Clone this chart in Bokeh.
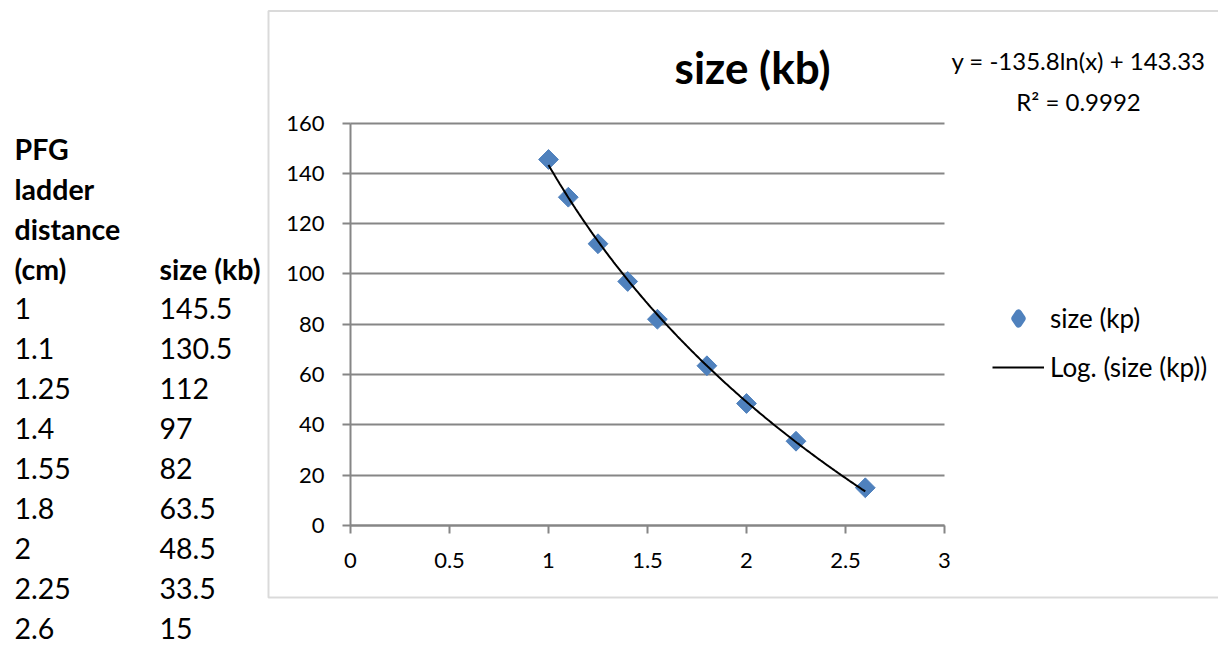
import numpy as np
from bokeh.plotting import figure
from bokeh.models import (Range1d, FixedTicker, Label, LabelSet, ColumnDataSource,
                          Legend, LegendItem, PolyAnnotation)
from bokeh.core.properties import value
from bokeh.embed import file_html
from bokeh.resources import INLINE

# ---------------- data ----------------
distance_cm = [1, 1.1, 1.25, 1.4, 1.55, 1.8, 2, 2.25, 2.6]
size_kb = [145.5, 130.5, 112, 97, 82, 63.5, 48.5, 33.5, 15]
distance_text = ["1", "1.1", "1.25", "1.4", "1.55", "1.8", "2", "2.25", "2.6"]
size_text = ["145.5", "130.5", "112", "97", "82", "63.5", "48.5", "33.5", "15"]
header_left = ["PFG", "ladder", "distance", "(cm)"]
header_right = "size (kb)"
x_ticks = [0, 0.5, 1, 1.5, 2, 2.5, 3]
x_tick_labels = ["0", "0.5", "1", "1.5", "2", "2.5", "3"]
y_ticks = [0, 20, 40, 60, 80, 100, 120, 140, 160]
chart_title = "size (kb)"
series_label = "size (kp)"
trend_label = "Log. (size (kp))"
equation_text = "y = -135.8ln(x) + 143.33"
r2_text = "R\u00b2 = 0.9992"

# ---------------- layout ----------------
W, H = 1218, 647
XMIN, XMAX = 0, 3
YMIN, YMAX = 0, 160
# pixel position of the plot area inside the canvas
PX0, PX1 = 350, 944      # x = 0 .. 3
PY0, PY1 = 525, 122.5    # y = 0 .. 160
SX = (PX1 - PX0) / (XMAX - XMIN)
SY = (PY0 - PY1) / (YMAX - YMIN)
FONT = "Lato"
GREY = "#868686"
BLUE = "#4F81BD"


def dx(px):
    return XMIN + (px - PX0) / SX


def dy(py):
    return YMIN + (PY0 - py) / SY


p = figure(width=W, height=H, title=None,
           x_range=Range1d(dx(0), dx(W)), y_range=Range1d(dy(H), dy(0)),
           output_backend="svg", toolbar_location=None,
           min_border=0, min_border_left=0, min_border_right=0,
           min_border_top=0, min_border_bottom=0,
           background_fill_color="white", border_fill_color="white")
p.outline_line_color = None

# axes (kept in their side panels, drawn at the plot-area origin)
p.xaxis.ticker = FixedTicker(ticks=x_ticks)
p.xaxis.major_label_overrides = {t: l for t, l in zip(x_ticks, x_tick_labels)}
p.yaxis.ticker = FixedTicker(ticks=y_ticks)
p.xaxis.fixed_location = YMIN
p.yaxis.fixed_location = XMIN
p.xaxis.bounds = (XMIN, XMAX)
p.yaxis.bounds = (YMIN, YMAX)
for ax in (p.xaxis[0], p.yaxis[0]):
    ax.axis_line_color = GREY
    ax.axis_line_width = 2
    ax.major_tick_line_color = GREY
    ax.major_tick_line_width = 2
    ax.major_tick_out = 8
    ax.major_tick_in = 0
    ax.minor_tick_line_color = None
    ax.major_label_text_font = FONT
    ax.major_label_text_font_size = "22px"
    ax.major_label_text_color = "black"
p.xaxis.major_label_standoff = 19
p.yaxis.major_label_standoff = 18

p.xgrid.visible = False
yg = p.ygrid[0]
yg.grid_line_color = GREY
yg.grid_line_width = 2
yg.grid_line_alpha = 1
yg.bounds = (YMIN, YMAX)
if "cross_bounds" in yg.properties():
    yg.cross_bounds = (XMIN, XMAX)

# data markers
src = ColumnDataSource(dict(x=distance_cm, y=size_kb))
p.scatter("x", "y", source=src, marker="square", size=14, angle=np.pi / 4,
          fill_color=BLUE, line_color=BLUE, line_width=1)

# logarithmic trend line fitted to the data
coef = np.polyfit(np.log(distance_cm), size_kb, 1)
xs = np.linspace(min(distance_cm), max(distance_cm), 200)
ys = coef[0] * np.log(xs) + coef[1]
trend_r = p.line(xs, ys, line_color="black", line_width=2)

# legend (hidden diamond renderer supplies the legend symbol)
proxy = p.scatter("x", "y", source=src, marker="diamond", size=12, fill_color=BLUE,
                  line_color=BLUE, line_width=7, line_join="round", visible=False)
legend = Legend(items=[LegendItem(label=series_label, renderers=[proxy]),
                       LegendItem(label=trend_label, renderers=[trend_r])],
                location=(992, H - 383), glyph_width=52, glyph_height=28, label_height=32,
                spacing=17, padding=0, margin=0, label_standoff=6,
                border_line_color=None, background_fill_alpha=0,
                label_text_font=FONT, label_text_font_size="26px",
                label_text_color="black")
p.add_layout(legend)

# chart border
p.add_layout(PolyAnnotation(xs=[dx(268), dx(1240), dx(1240), dx(268)],
                            ys=[dy(10.5), dy(10.5), dy(597), dy(597)],
                            fill_alpha=0, line_color=GREY, line_width=2))

# chart title and equation
p.add_layout(Label(x=dx(752), y=dy(66), text=chart_title, text_font=FONT,
                   text_font_style="bold", text_font_size="44px", text_color="black",
                   text_align="center", text_baseline="middle"))
p.add_layout(Label(x=dx(1078), y=dy(60), text=equation_text, text_font=FONT,
                   text_font_size="24px", text_color="black",
                   text_align="center", text_baseline="middle"))
p.add_layout(Label(x=dx(1078), y=dy(101), text=r2_text, text_font=FONT,
                   text_font_size="24px", text_color="black",
                   text_align="center", text_baseline="middle"))

# table on the left
ROW0, ROWSTEP = 148, 40.0
TFS = "28.5px"
for i, t in enumerate(header_left):
    p.add_layout(Label(x=dx(14), y=dy(ROW0 + i * ROWSTEP), text=t, text_font=FONT,
                       text_font_style="bold", text_font_size=TFS, text_color="black",
                       text_align="left", text_baseline="middle"))
p.add_layout(Label(x=dx(159), y=dy(ROW0 + 3 * ROWSTEP), text=header_right, text_font=FONT,
                   text_font_style="bold", text_font_size=TFS, text_color="black",
                   text_align="left", text_baseline="middle"))
row_y = [dy(ROW0 + (4 + i) * ROWSTEP) for i in range(len(distance_text))]
tbl = ColumnDataSource(dict(x1=[dx(14)] * len(row_y), x2=[dx(159)] * len(row_y),
                            y=row_y, t1=distance_text, t2=size_text))
for xcol, tcol in (("x1", "t1"), ("x2", "t2")):
    p.add_layout(LabelSet(x=xcol, y="y", text=tcol, source=tbl,
                          text_font=value(FONT), text_font_size=value(TFS),
                          text_color="black",
                          text_align="left", text_baseline="middle"))

open("out.html", "w").write(file_html(p, INLINE))
